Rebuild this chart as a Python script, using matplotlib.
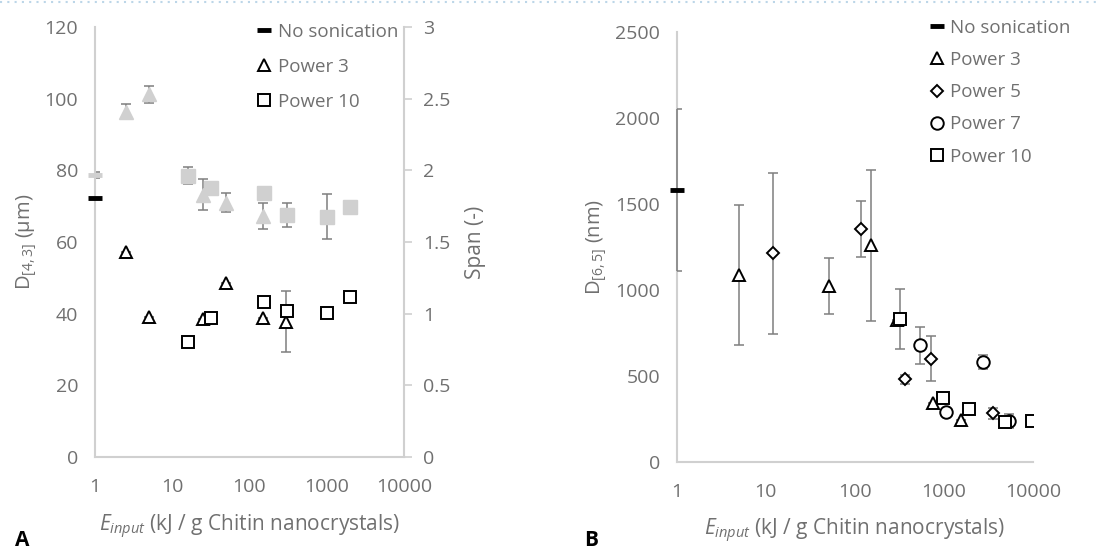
import numpy as np
import matplotlib
matplotlib.use('Agg')
import matplotlib.pyplot as plt
from matplotlib.lines import Line2D

plt.rcParams['font.family'] = ['Open Sans', 'DejaVu Sans']
plt.rcParams['mathtext.fontset'] = 'custom'
plt.rcParams['mathtext.rm'] = 'Open Sans'
plt.rcParams['mathtext.it'] = 'Open Sans:italic'

# ---- panel A data: D[4,3] (left axis) and span (right axis)
a_nosonic_x = [1]
a_nosonic_d = [72.3]
a_nosonic_span = [1.97]
a_nosonic_span_err = [0.02]

a_p3_x = [2.5, 5, 25, 50, 150, 300]
a_p3_d = [57.2, 39.2, 38.5, 48.6, 38.9, 37.8]
a_p3_d_err = [0, 0, 0, 0, 0, 8.6]
a_p3_span = [2.41, 2.53, 1.83, 1.775, 1.68]
a_p3_span_x = [2.5, 5, 25, 50, 150]
a_p3_span_err = [0.055, 0.06, 0.11, 0.065, 0.09]

a_p10_x = [15.8, 31.8, 156, 310, 1000, 2000]
a_p10_d = [32.0, 38.7, 43.2, 40.8, 40.1, 44.7]
a_p10_span = [1.963, 1.88, 1.844, 1.69, 1.677, 1.747]
a_p10_span_err = [0.06, 0.0, 0.0, 0.085, 0.155, 0.0]

# ---- panel B data: D[6,5] (nm)
b_nosonic_x = [1]
b_nosonic_d = [1582]
b_nosonic_err = [472]

b_p3_x = [5, 51, 152, 296, 763, 1550]
b_p3_d = [1087, 1023, 1261, 825, 343, 243]
b_p3_err = [410, 165, 440, 0, 0, 0]

b_p5_x = [12, 118, 361, 720, 3550]
b_p5_d = [1213, 1355, 480, 600, 281]
b_p5_err = [470, 165, 25, 132, 30]

b_p7_x = [532, 1062, 2716, 5320]
b_p7_d = [679, 287, 582, 239]
b_p7_err = [108, 0, 40, 40]

b_p10_x = [318, 975, 1924, 4800, 9750]
b_p10_d = [830, 369, 305, 233, 239]
b_p10_err = [173, 0, 0, 0, 0]

xticks = [1, 10, 100, 1000, 10000]

txt = '#707070'
spine_c = '#d0d0d0'
err_c = '#7f7f7f'
light = '#d0d0d0'
fs = 14        # tick labels
fs_lab = 14.5  # axis titles
fs_leg = 13.5  # legend

fig = plt.figure(figsize=(10.98, 5.49), dpi=100)

# dotted line at top of figure
fig.add_artist(Line2D([0, 1], [0.997, 0.997], color='#bcd6e8', lw=1.5,
                      linestyle=(0, (1, 2.5)), transform=fig.transFigure))


def style_axis(ax):
    ax.set_xscale('log')
    ax.set_xlim(1, 10000)
    ax.set_xticks(xticks)
    ax.set_xticklabels([str(v) for v in xticks])
    ax.minorticks_off()
    for s in ['top', 'right']:
        ax.spines[s].set_visible(False)
    for s in ['left', 'bottom']:
        ax.spines[s].set_color(spine_c)
        ax.spines[s].set_linewidth(1.5)
    ax.tick_params(axis='both', length=0, labelsize=fs, colors=txt)
    ax.tick_params(axis='x', pad=15)
    ax.tick_params(axis='y', pad=12)
    ax.set_xlabel(r'$\mathit{E}_{\mathit{input}}$ (kJ / g Chitin nanocrystals)',
                  fontsize=fs_lab + 0.5, color=txt, labelpad=12)


ebar = dict(fmt='none', ecolor=err_c, elinewidth=1.1, capsize=3.5, capthick=1.1,
            zorder=3)

# ================= Panel A =================
ax = fig.add_axes([0.0865, 0.1676, 0.2814, 0.7832])
ax2 = ax.twinx()
style_axis(ax)
ax.set_ylim(0, 120)
ax.set_yticks(np.arange(0, 121, 20))
ax.set_ylabel(r'D$_{[4,3]}$ (μm)', fontsize=fs_lab, color=txt, labelpad=4)

ax2.set_ylim(0, 3)
ax2.set_yticks([0, 0.5, 1, 1.5, 2, 2.5, 3])
ax2.set_yticklabels(['0', '0.5', '1', '1.5', '2', '2.5', '3'])
for s in ['top', 'left', 'bottom']:
    ax2.spines[s].set_visible(False)
ax2.spines['right'].set_color(spine_c)
ax2.spines['right'].set_linewidth(1.5)
ax2.tick_params(axis='y', length=6, width=1.2, color=spine_c, labelsize=fs,
                labelcolor=txt, pad=8)
ax2.set_ylabel('Span (-)', fontsize=fs_lab + 0.5, color=txt, labelpad=10)

# span (grey, right axis)
ax2.errorbar(a_nosonic_x, a_nosonic_span, yerr=a_nosonic_span_err, **ebar)
ax2.errorbar(a_p3_span_x, a_p3_span, yerr=a_p3_span_err, **ebar)
ax2.errorbar(a_p10_x, a_p10_span, yerr=a_p10_span_err, **ebar)
ax2.plot(a_nosonic_x, a_nosonic_span, ls='none', marker='_', ms=10, mew=3.5,
         color=light, clip_on=False, zorder=5)
ax2.plot(a_p3_span_x, a_p3_span, ls='none', marker='^', ms=10, color=light, mec=light,
         zorder=4)
ax2.plot(a_p10_x, a_p10_span, ls='none', marker='s', ms=9.5, color=light, mec=light,
         zorder=4)

# D[4,3] (black, left axis) on top
ax.set_zorder(ax2.get_zorder() + 1)
ax.patch.set_visible(False)
ax.errorbar(a_p3_x, a_p3_d, yerr=a_p3_d_err, **ebar)
h0, = ax.plot(a_nosonic_x, a_nosonic_d, ls='none', marker='_', ms=10, mew=3.5,
              color='black', clip_on=False, zorder=5, label='No sonication')
h1, = ax.plot(a_p3_x, a_p3_d, ls='none', marker='^', ms=9, mfc='white', mec='black',
              mew=1.4, zorder=4, label='Power 3')
h2, = ax.plot(a_p10_x, a_p10_d, ls='none', marker='s', ms=8.5, mfc='white', mec='black',
              mew=1.4, zorder=4, label='Power 10')
leg = ax.legend(handles=[h0, h1, h2], loc='upper left', bbox_to_anchor=(0.234, 0.958),
                bbox_transform=fig.transFigure, frameon=False, fontsize=fs_leg,
                handlelength=0.8, handletextpad=0.3, labelspacing=0.9,
                borderpad=0, borderaxespad=0)
for t in leg.get_texts():
    t.set_color(txt)

fig.text(0.014, 0.006, 'A', fontsize=15, fontweight='bold', color='black')

# ================= Panel B =================
bx = fig.add_axes([0.6163, 0.159, 0.3245, 0.7822])
style_axis(bx)
bx.set_ylim(0, 2500)
bx.set_yticks(np.arange(0, 2501, 500))
bx.set_ylabel(r'D$_{[6,5]}$ (nm)', fontsize=fs_lab, color=txt, labelpad=4)

eb0 = bx.errorbar(b_nosonic_x, b_nosonic_d, yerr=b_nosonic_err, **ebar)
for lc in eb0[2]:
    lc.set_clip_on(False)
bx.errorbar(b_p3_x, b_p3_d, yerr=b_p3_err, **ebar)
bx.errorbar(b_p5_x, b_p5_d, yerr=b_p5_err, **ebar)
bx.errorbar(b_p7_x, b_p7_d, yerr=b_p7_err, **ebar)
bx.errorbar(b_p10_x, b_p10_d, yerr=b_p10_err, **ebar)

mk = dict(ls='none', mfc='white', mec='black', mew=1.4, zorder=4)
g0, = bx.plot(b_nosonic_x, b_nosonic_d, ls='none', marker='_', ms=10, mew=3.5,
              color='black', clip_on=False, zorder=5, label='No sonication')
g1, = bx.plot(b_p3_x, b_p3_d, marker='^', ms=9, label='Power 3', **mk)
g2, = bx.plot(b_p5_x, b_p5_d, marker='D', ms=6.5, label='Power 5', **mk)
g3, = bx.plot(b_p7_x, b_p7_d, marker='o', ms=9, label='Power 7', **mk)
g4, = bx.plot(b_p10_x, b_p10_d, marker='s', ms=8.5, label='Power 10', **mk)
leg2 = bx.legend(handles=[g0, g1, g2, g3, g4], loc='upper left',
                 bbox_to_anchor=(0.8466, 0.966), bbox_transform=fig.transFigure,
                 frameon=False, fontsize=fs_leg, handlelength=0.8,
                 handletextpad=0.3, labelspacing=0.76, borderpad=0, borderaxespad=0)
for t in leg2.get_texts():
    t.set_color(txt)

fig.text(0.532, 0.006, 'B', fontsize=15, fontweight='bold', color='black')

fig.savefig('out.png', dpi=100)
